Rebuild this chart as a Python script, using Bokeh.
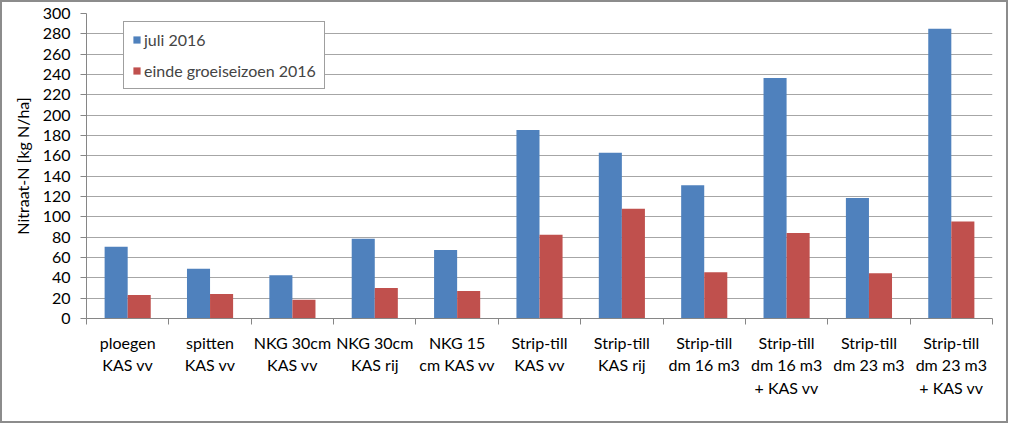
import numpy as np
from bokeh.plotting import figure
from bokeh.models import ColumnDataSource, FixedTicker, Legend, LegendItem, Range1d
from bokeh.transform import dodge
from bokeh.embed import file_html
from bokeh.resources import INLINE

categories = [
    "ploegen\nKAS vv", "spitten\nKAS vv", "NKG 30cm\nKAS vv", "NKG 30cm\nKAS rij",
    "NKG 15\ncm KAS vv", "Strip-till\nKAS vv", "Strip-till\nKAS rij",
    "Strip-till\ndm 16 m3", "Strip-till\ndm 16 m3\n+ KAS vv", "Strip-till\ndm 23 m3",
    "Strip-till\ndm 23 m3\n+ KAS vv",
]
juli_2016 = [70.5, 49, 42.5, 78.5, 67.5, 185.5, 163, 131, 236.5, 118.5, 285]
einde_2016 = [23, 24, 18.5, 30, 27, 82.5, 108, 45.5, 84, 44.5, 95.5]
series_names = ["juli 2016", "einde groeiseizoen 2016"]
y_ticks = list(range(0, 301, 20))

FONT = "Lato"
BLUE = "#4f81bd"
RED = "#c0504d"

n = len(categories)
centers = np.arange(n) + 0.5
source = ColumnDataSource(dict(xc=centers, juli=juli_2016, einde=einde_2016))

p = figure(width=1008, height=423, output_backend="svg", toolbar_location=None,
           x_range=Range1d(0, n), y_range=Range1d(0, 300),
           min_border_left=84, min_border_right=18, min_border_top=11, min_border_bottom=107)
p.outline_line_color = None
p.styles = {"border": "2px solid #8c8c8c", "box-sizing": "border-box"}

bw = 0.28
r1 = p.vbar(x=dodge("xc", -bw / 2, range=p.x_range), top="juli", width=bw, source=source,
            fill_color=BLUE, line_color=None)
r2 = p.vbar(x=dodge("xc", bw / 2, range=p.x_range), top="einde", width=bw, source=source,
            fill_color=RED, line_color=None)

# x axis: labels at category centres, tick marks at boundaries (minor ticks)
p.xaxis.ticker = FixedTicker(ticks=list(centers), minor_ticks=list(range(n + 1)))
p.xaxis.major_label_overrides = {float(c): lab for c, lab in zip(centers, categories)}
p.xaxis.major_tick_line_color = None
p.xaxis.minor_tick_line_color = "#868686"
p.xaxis.minor_tick_out = 6
p.xaxis.minor_tick_in = 0
p.xaxis.axis_line_color = "#868686"
p.xaxis.major_label_standoff = 8
p.xaxis.major_label_text_font = FONT
p.xaxis.major_label_text_font_size = "16px"
p.xaxis.major_label_text_color = "#000000"
p.xaxis.major_label_orientation = "horizontal"
p.xgrid.grid_line_color = None

p.yaxis.ticker = FixedTicker(ticks=y_ticks)
p.yaxis.major_tick_out = 6
p.yaxis.major_tick_in = 0
p.yaxis.minor_tick_line_color = None
p.yaxis.axis_line_color = "#868686"
p.yaxis.major_tick_line_color = "#868686"
p.yaxis.major_label_text_font = FONT
p.yaxis.major_label_text_font_size = "16px"
p.yaxis.major_label_text_color = "#000000"
p.yaxis.major_label_standoff = 10
p.yaxis.axis_label = "Nitraat-N [kg N/ha]"
p.yaxis.axis_label_text_font = FONT
p.yaxis.axis_label_text_font_size = "16px"
p.yaxis.axis_label_text_font_style = "normal"
p.yaxis.axis_label_text_color = "#000000"
p.yaxis.axis_label_standoff = 8
p.ygrid.grid_line_color = "#a6a6a6"
p.ygrid.grid_line_width = 1

legend = Legend(items=[LegendItem(label=series_names[0], renderers=[r1]),
                       LegendItem(label=series_names[1], renderers=[r2])],
                location=(37, 229))
legend.border_line_color = "#404040"
legend.border_line_width = 1
legend.background_fill_color = "white"
legend.background_fill_alpha = 1
legend.glyph_width = 9
legend.glyph_height = 9
legend.label_text_font = FONT
legend.label_text_font_size = "16px"
legend.label_height = 18
legend.label_standoff = 3
legend.spacing = 12
legend.padding = 8
legend.margin = 0
p.add_layout(legend, "center")

open("out.html", "w").write(file_html(p, INLINE))
